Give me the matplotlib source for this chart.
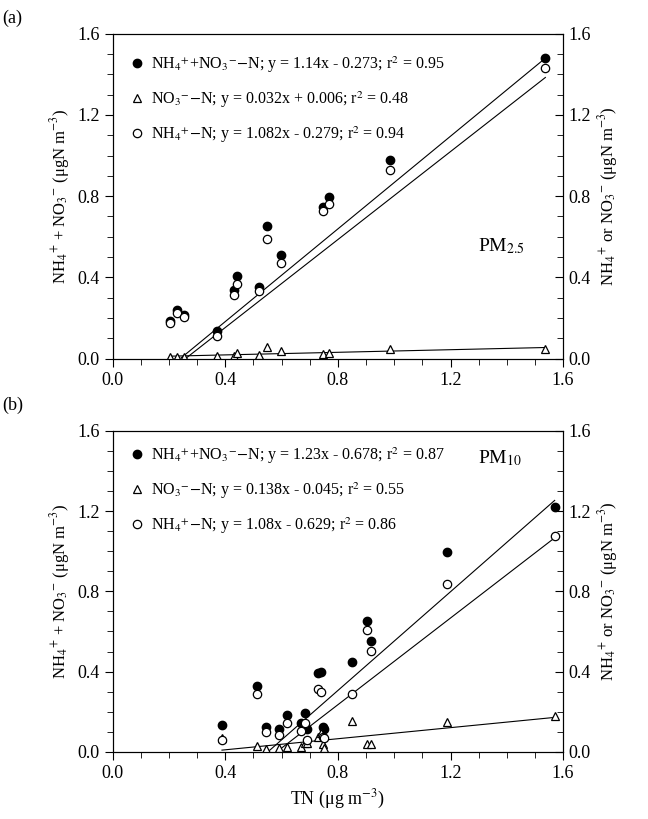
import numpy as np
import matplotlib.pyplot as plt
from matplotlib.ticker import MultipleLocator

plt.rcParams['font.family'] = ['Liberation Serif', 'DejaVu Serif']
plt.rcParams['mathtext.fontset'] = 'stix'

# PM2.5 panel data
tn25 = [0.203, 0.229, 0.254, 0.369, 0.432, 0.440, 0.521, 0.549, 0.598, 0.748, 0.768, 0.986, 1.537]
tot25 = [0.188, 0.239, 0.217, 0.135, 0.337, 0.407, 0.352, 0.651, 0.508, 0.747, 0.794, 0.978, 1.48]
nh25 = [0.177, 0.227, 0.205, 0.113, 0.314, 0.370, 0.332, 0.587, 0.469, 0.727, 0.761, 0.927, 1.43]
no25 = [0.01, 0.01, 0.01, 0.014, 0.014, 0.03, 0.016, 0.06, 0.04, 0.025, 0.03, 0.05, 0.047]
fit25 = [(1.14, -0.273), (0.032, 0.006), (1.082, -0.279)]

# PM10 panel data
tn10 = [0.388, 0.514, 0.545, 0.592, 0.620, 0.668, 0.684, 0.689, 0.728, 0.739, 0.746, 0.751, 0.849, 0.903, 0.917, 1.187, 1.57]
tot10 = [0.135, 0.326, 0.123, 0.113, 0.183, 0.143, 0.196, 0.113, 0.395, 0.40, 0.126, 0.113, 0.45, 0.65, 0.552, 0.994, 1.22]
nh10 = [0.06, 0.286, 0.10, 0.086, 0.146, 0.106, 0.146, 0.06, 0.312, 0.297, 0.073, 0.068, 0.286, 0.608, 0.505, 0.836, 1.077]
no10 = [0.07, 0.03, 0.015, 0.018, 0.023, 0.023, 0.046, 0.043, 0.076, 0.096, 0.04, 0.018, 0.156, 0.04, 0.04, 0.148, 0.18]
fit10 = [(1.23, -0.678), (0.138, -0.045), (1.08, -0.629)]

lab25 = [r'NH$_4$$^{+}$+NO$_3$$^{-}$$-$N; y = 1.14x - 0.273; r$^2$ = 0.95',
         r'NO$_3$$^{-}$$-$N; y = 0.032x + 0.006; r$^2$ = 0.48',
         r'NH$_4$$^{+}$$-$N; y = 1.082x - 0.279; r$^2$ = 0.94']
lab10 = [r'NH$_4$$^{+}$+NO$_3$$^{-}$$-$N; y = 1.23x - 0.678; r$^2$ = 0.87',
         r'NO$_3$$^{-}$$-$N; y = 0.138x - 0.045; r$^2$ = 0.55',
         r'NH$_4$$^{+}$$-$N; y = 1.08x - 0.629; r$^2$ = 0.86']

fig = plt.figure(figsize=(6.48, 8.19), dpi=100)
ax1 = fig.add_axes([0.174, 0.562, 0.695, 0.397])
ax2 = fig.add_axes([0.174, 0.082, 0.695, 0.392])


def panel(ax, tn, tot, no, nh, fits, labels, pm, pmpos, legy):
    ms = 6
    ax.plot(tn, tot, 'o', mfc='black', mec='black', ms=ms, label=labels[0], zorder=3)
    ax.plot(tn, no, '^', mfc='white', mec='black', ms=ms, mew=0.9, label=labels[1], zorder=3)
    ax.plot(tn, nh, 'o', mfc='white', mec='black', ms=ms, mew=0.9, label=labels[2], zorder=4)
    xs = np.linspace(min(tn), max(tn), 200)
    for a, b in fits:
        ys = a * xs + b
        m = ys >= 0
        ax.plot(xs[m], ys[m], color='black', lw=0.8)
    ax.set_xlim(0, 1.6)
    ax.set_ylim(0, 1.6)
    ax.xaxis.set_major_locator(MultipleLocator(0.4))
    ax.xaxis.set_minor_locator(MultipleLocator(0.1))
    ax.yaxis.set_major_locator(MultipleLocator(0.4))
    ax.yaxis.set_minor_locator(MultipleLocator(0.1))
    ax.xaxis.set_major_formatter(lambda v, p: f'{v:.1f}')
    ax.yaxis.set_major_formatter(lambda v, p: f'{v:.1f}')
    ax.tick_params(labelsize=13, direction='out', length=6)
    ax.tick_params(which='minor', direction='out', length=4)
    ax.set_ylabel(r'NH$_4$$^{+}$ + NO$_3$$^{-}$ (μgN m$^{-3}$)', fontsize=12)
    ax.legend(loc='upper left', bbox_to_anchor=(0.0, legy), frameon=False, fontsize=11.5,
              handletextpad=0.3, labelspacing=0.9, handlelength=1.2)
    ax.text(pmpos[0], pmpos[1], pm, transform=ax.transAxes, fontsize=14)
    tw = ax.twinx()
    tw.set_ylim(0, 1.6)
    tw.yaxis.set_major_locator(MultipleLocator(0.4))
    tw.yaxis.set_minor_locator(MultipleLocator(0.1))
    tw.yaxis.set_major_formatter(lambda v, p: f'{v:.1f}')
    tw.tick_params(labelsize=13, direction='in', length=6)
    tw.tick_params(which='minor', direction='in', length=4)
    tw.set_ylabel(r'NH$_4$$^{+}$ or NO$_3$$^{-}$ (μgN m$^{-3}$)', fontsize=12)


panel(ax1, tn25, tot25, no25, nh25, fit25, lab25, r'PM$_{2.5}$', (0.81, 0.33), 0.98)
panel(ax2, tn10, tot10, no10, nh10, fit10, lab10, r'PM$_{10}$', (0.81, 0.9), 1.0)
ax2.set_xlabel(r'TN (μg m$^{-3}$)', fontsize=13)
fig.text(0.003, 0.978, '(a)', fontsize=13, va='center')
fig.text(0.003, 0.505, '(b)', fontsize=13, va='center')

fig.savefig('out.png', dpi=100)
